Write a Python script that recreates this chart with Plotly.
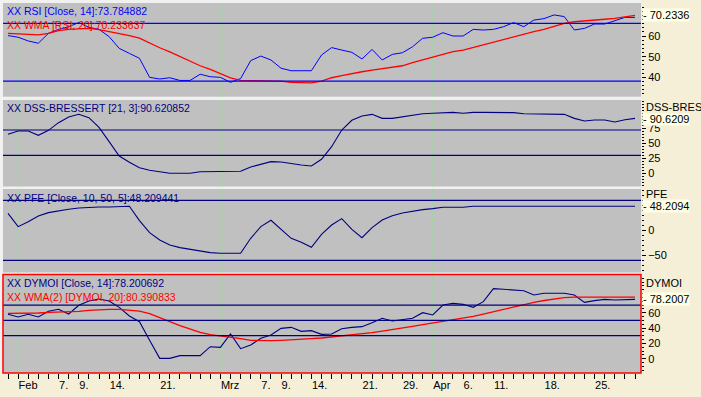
import plotly.graph_objects as go
from plotly.subplots import make_subplots

# ---------------- data ----------------
dates = [
    "2005-01-31",
    "2005-02-01", "2005-02-02", "2005-02-03", "2005-02-04",
    "2005-02-07", "2005-02-08", "2005-02-09", "2005-02-10", "2005-02-11",
    "2005-02-14", "2005-02-15", "2005-02-16", "2005-02-17", "2005-02-18",
    "2005-02-21", "2005-02-22", "2005-02-23", "2005-02-24", "2005-02-25",
    "2005-02-28",
    "2005-03-01", "2005-03-02", "2005-03-03", "2005-03-04",
    "2005-03-07", "2005-03-08", "2005-03-09", "2005-03-10", "2005-03-11",
    "2005-03-14", "2005-03-15", "2005-03-16", "2005-03-17", "2005-03-18",
    "2005-03-21", "2005-03-22", "2005-03-23", "2005-03-24",
    "2005-03-29", "2005-03-30", "2005-03-31",
    "2005-04-01",
    "2005-04-04", "2005-04-05", "2005-04-06", "2005-04-07", "2005-04-08",
    "2005-04-11", "2005-04-12", "2005-04-13", "2005-04-14", "2005-04-15",
    "2005-04-18", "2005-04-19", "2005-04-20", "2005-04-21", "2005-04-22",
    "2005-04-25", "2005-04-26", "2005-04-27", "2005-04-28", "2005-04-29",
]

tick_label_dates = ["2005-02-01", "2005-02-07", "2005-02-09", "2005-02-14", "2005-02-21",
                    "2005-03-01", "2005-03-07", "2005-03-09", "2005-03-14", "2005-03-21",
                    "2005-03-29", "2005-04-01", "2005-04-06", "2005-04-11", "2005-04-18",
                    "2005-04-25"]
tick_label_texts = ["Feb", "7.", "9.", "14.", "21.",
                    "Mrz", "7.", "9.", "14.", "21.",
                    "29.", "Apr", "6.", "11.", "18.",
                    "25."]
month_starts = ["2005-02-01", "2005-03-01", "2005-04-01"]

rsi = [60.2, 59.4, 57.6, 56.5, 61.3, 63.2, 64.5, 66.5, 64.2, 63.2,
       59.7, 54.0, 51.6, 49.2, 40.0, 39.2, 39.8, 38.5, 38.5, 41.5,
       40.3, 40.0, 37.6, 39.4, 48.1, 50.3, 48.4, 44.4, 43.2, 43.2,
       43.2, 50.8, 54.4, 53.2, 52.1, 48.9, 53.5, 48.4, 51.1, 51.9,
       54.8, 58.9, 59.4, 61.6, 60.0, 60.0, 63.2, 62.9, 63.2, 64.5,
       66.5, 64.5, 67.7, 68.4, 70.2, 69.4, 62.9, 63.7, 65.8, 65.8,
       67.4, 69.0, 69.0]
rsi_wma = [61.3, 61.0, 60.5, 60.5, 61.3, 62.6, 63.2, 63.5, 63.7, 63.1,
           62.2, 61.2, 60.2, 59.0, 56.6, 54.3, 52.3, 50.1, 47.7, 45.6,
           43.8, 41.6, 39.7, 38.5, 38.5, 38.5, 38.5, 38.2, 37.6, 37.3,
           37.3, 38.2, 39.8, 40.8, 41.9, 42.7, 43.5, 44.2, 44.7, 45.6,
           47.1, 48.4, 50.0, 51.1, 52.4, 53.2, 54.5, 55.6, 56.9, 58.1,
           59.7, 60.8, 62.1, 63.2, 64.5, 66.1, 66.9, 67.4, 67.7, 68.1,
           68.5, 69.4, 70.0]
dss = [65.3, 70.8, 70.8, 63.6, 71.9, 84.7, 94.2, 98.6, 93.0, 76.9,
       53.0, 29.2, 18.6, 9.7, 5.3, 2.5, 0.3, 0.3, 0.3, 3.0,
       3.0, 3.0, 3.0, 3.6, 10.8, 15.8, 19.7, 19.2, 16.4, 14.2,
       12.5, 23.6, 44.7, 72.5, 88.6, 95.8, 98.6, 91.9, 91.9, 94.7,
       96.4, 99.7, 100.3, 101.4, 101.9, 100.3, 101.9, 101.9, 101.9, 101.9,
       101.4, 99.7, 99.2, 98.6, 98.6, 98.6, 91.9, 87.5, 89.2, 89.2,
       85.8, 89.7, 91.9]
pfe = [34.0, 7.3, 17.3, 28.6, 35.3, 39.3, 42.0, 44.6, 46.0, 46.6,
       46.6, 46.6, 48.0, 19.3, -4.7, -19.4, -29.4, -34.7, -38.0, -41.4,
       -44.7, -46.0, -46.0, -46.0, -16.0, 7.3, 20.0, 2.0, -16.0, -24.0,
       -34.0, -8.0, 10.6, 23.3, 2.0, -14.7, 5.3, 20.6, 29.3, 34.6,
       38.6, 41.3, 43.3, 46.0, 46.0, 46.0, 48.2, 48.2, 48.2, 48.2,
       48.2, 48.2, 48.2, 48.2, 48.2, 48.2, 48.2, 48.2, 48.2, 48.2,
       48.2, 48.2, 48.2]
dymoi = [57.9, 54.4, 57.9, 54.4, 61.8, 64.4, 58.3, 69.6, 75.3, 77.9,
         75.3, 67.0, 55.7, 48.3, 24.0, 0.5, 0.5, 4.0, 4.0, 4.0,
         15.7, 14.8, 32.2, 13.1, 17.9, 26.6, 30.9, 39.6, 40.9, 35.7,
         36.6, 31.8, 32.2, 39.2, 40.9, 41.8, 47.0, 52.7, 49.2, 51.3,
         52.7, 60.0, 57.0, 70.0, 72.2, 70.9, 67.0, 74.4, 91.3, 90.5,
         89.6, 88.7, 83.1, 85.3, 85.3, 85.3, 83.1, 73.5, 75.7, 77.4,
         76.6, 76.6, 77.4]
dymoi_wma = [59.2, 59.2, 59.2, 59.6, 60.5, 60.9, 61.3, 61.8, 63.1, 64.0,
             64.4, 64.4, 63.7, 62.2, 58.7, 54.0, 48.3, 43.1, 38.3, 34.4,
             31.3, 29.6, 28.7, 26.1, 24.0, 23.5, 23.5, 24.0, 24.4, 25.3,
             26.1, 27.0, 28.3, 29.6, 30.5, 32.2, 34.0, 36.1, 37.9, 39.6,
             42.2, 44.4, 46.6, 48.7, 50.5, 52.7, 55.3, 58.3, 61.3, 64.8,
             67.9, 70.5, 73.5, 75.9, 78.0, 79.6, 80.2, 80.4, 80.4, 80.4,
             80.4, 80.4, 80.4]

rsi_levels = [66.1, 38.2]
dss_levels = [72.5, 30.3]
pfe_levels = [60, -60]
dymoi_levels = [70, 50, 30]

rsi_ticks = [40, 50, 60]
dss_ticks = [0, 25, 50, 75]
pfe_ticks = [-50, 0]
dymoi_ticks = [0, 20, 40, 60]

titles = [
    ("XX RSI [Close, 14]:73.784882", "#0000ff", 1, 0.978),
    ("XX WMA [RSI, 20]:70.233637", "#ff0000", 1, 0.9405),
    ("XX DSS-BRESSERT [21, 3]:90.620852", "#000080", 2, 0.7162),
    ("XX PFE [Close, 10, 50, 5]:48.209441", "#000080", 3, 0.4743),
    ("XX DYMOI [Close, 14]:78.200692", "#000080", 4, 0.2432),
    ("XX WMA(2) [DYMOI, 20]:80.390833", "#ff0000", 4, 0.2054),
]
value_boxes = [("70.2336", 1, 70.2336), ("90.6209", 2, 90.6209),
               ("48.2094", 3, 48.2094), ("78.2007", 4, 78.2007)]
name_labels = [("DSS-BRES", 2, 107), ("PFE", 3, 194), ("DYMOI", 4, 283)]

# ---------------- style / layout ----------------
W, H = 701, 397
ML, MR, MT, MB = 3, 60, 3, 24
PW, PH = W - ML - MR, H - MT - MB
FONT = "Liberation Sans"
BEIGE = "#f6efd8"
GRAY = "#c0c0c0"
NAVY = "#000080"


def py2frac(py):
    return 1 - (py - MT) / PH


def px2frac(px):
    return (px - ML) / PW


domains = [
    (py2frac(96.7), 1.0),
    (py2frac(186.5), py2frac(100)),
    (py2frac(272.5), py2frac(189)),
    (0.0, py2frac(274.5)),
]
yranges = [(30.63, 75.97), (-21.7, 122.5), (-84.4, 82.6), (-18.6, 109.8)]
ytickvals = [rsi_ticks, dss_ticks, pfe_ticks, dymoi_ticks]
yminor = [2, 5, 10, 5]

fig = make_subplots(rows=4, cols=1, shared_xaxes=True, vertical_spacing=0.01)

fig.add_trace(go.Scatter(x=dates, y=rsi, mode="lines", line=dict(color="#0000ff", width=1)), row=1, col=1)
fig.add_trace(go.Scatter(x=dates, y=rsi_wma, mode="lines", line=dict(color="#ff0000", width=1.3)), row=1, col=1)
fig.add_trace(go.Scatter(x=dates, y=dss, mode="lines", line=dict(color=NAVY, width=1.1)), row=2, col=1)
fig.add_trace(go.Scatter(x=dates, y=pfe, mode="lines", line=dict(color=NAVY, width=1.1)), row=3, col=1)
fig.add_trace(go.Scatter(x=dates, y=dymoi, mode="lines", line=dict(color=NAVY, width=1.1)), row=4, col=1)
fig.add_trace(go.Scatter(x=dates, y=dymoi_wma, mode="lines", line=dict(color="#ff0000", width=1.3)), row=4, col=1)

levels = [(rsi_levels, "#0000ff"), (dss_levels, NAVY), (pfe_levels, NAVY), (dymoi_levels, NAVY)]
for r, (lv, col) in enumerate(levels, start=1):
    for v in lv:
        fig.add_hline(y=v, row=r, col=1, line=dict(color=col, width=1.2))

shapes = []
# beige areas outside the panels
shapes.append(dict(type="rect", xref="paper", yref="paper", x0=1.0, x1=1 + (MR + 2) / PW,
                   y0=-(MB + 2) / PH, y1=1 + (MT + 2) / PH, fillcolor=BEIGE, line=dict(width=0), layer="below"))
shapes.append(dict(type="rect", xref="paper", yref="paper", x0=-(ML + 2) / PW, x1=1 + (MR + 2) / PW,
                   y0=-(MB + 2) / PH, y1=0, fillcolor=BEIGE, line=dict(width=0), layer="below"))
# faint green month grid lines
for r in range(1, 5):
    xr = "x" if r == 1 else f"x{r}"
    yr = "y domain" if r == 1 else f"y{r} domain"
    for d in month_starts:
        shapes.append(dict(type="line", xref=xr, yref=yr, x0=d, x1=d, y0=0, y1=1,
                           line=dict(color="#a6d2a6", width=1), layer="below"))
# red frame around the active panel
shapes.append(dict(type="rect", xref="x4 domain", yref="y4 domain", x0=0, x1=1, y0=0, y1=1,
                   line=dict(color="#ff0000", width=1.5), layer="above"))
for s in shapes:
    fig.add_shape(**s)

annotations = []
for text, col, r, yf in titles:
    annotations.append(dict(text=text, xref="paper", yref="paper", x=px2frac(5), y=yf,
                            xanchor="left", yanchor="middle", showarrow=False,
                            font=dict(family=FONT, size=10.5, color=col)))
for text, r, v in value_boxes:
    yr = "y" if r == 1 else f"y{r}"
    annotations.append(dict(text="- " + text, xref="paper", yref=yr, x=px2frac(642), y=v,
                            xanchor="left", yanchor="middle", showarrow=False,
                            bgcolor="#ffffe6", borderpad=0,
                            font=dict(family=FONT, size=11, color="black")))
for text, r, pyc in name_labels:
    annotations.append(dict(text=text, xref="paper", yref="paper", x=px2frac(645), y=py2frac(pyc),
                            xanchor="left", yanchor="middle", showarrow=False,
                            bgcolor=BEIGE, borderpad=0,
                            font=dict(family=FONT, size=11, color="black")))

ticktext_all = []
for d in dates:
    ticktext_all.append(tick_label_texts[tick_label_dates.index(d)] if d in tick_label_dates else "")

layout = dict(
    width=W, height=H,
    margin=dict(l=ML, r=MR, t=MT, b=MB, autoexpand=False),
    paper_bgcolor="#f1f1f1",
    plot_bgcolor=GRAY,
    showlegend=False,
    hovermode=False,
    font=dict(family=FONT, size=11, color="black"),
    annotations=annotations,
)
fig.update_layout(**layout)

for r in range(1, 5):
    lo, hi = domains[r - 1]
    fig.update_yaxes(row=r, col=1, domain=[lo, hi], range=list(yranges[r - 1]), side="right",
                     showgrid=False, zeroline=False, showline=False, automargin=False,
                     ticks="outside", ticklen=4, tickwidth=1, tickcolor="black",
                     tickmode="array", tickvals=ytickvals[r - 1],
                     minor=dict(ticks="outside", ticklen=2, tickwidth=1, tickcolor="black",
                                tickmode="linear", dtick=yminor[r - 1], tick0=0, showgrid=False),
                     tickfont=dict(family=FONT, size=11, color="black"), fixedrange=True)
    fig.update_xaxes(row=r, col=1, type="category", range=[-0.494, 62.59], automargin=False,
                     showgrid=False, zeroline=False, showline=False, fixedrange=True)

for r in range(1, 4):
    fig.update_xaxes(row=r, col=1, showticklabels=False, ticks="")

fig.update_xaxes(row=4, col=1, tickmode="array", tickvals=dates, ticktext=ticktext_all,
                 ticks="outside", ticklen=5, tickwidth=1, tickcolor="black",
                 ticklabelposition="outside right", ticklabelstandoff=2,
                 tickfont=dict(family=FONT, size=11, color="black"), showticklabels=True)

fig.write_html("out.html", config={"displayModeBar": False, "staticPlot": True},
               post_script="document.body.style.margin='0px';document.body.style.padding='0px';")
